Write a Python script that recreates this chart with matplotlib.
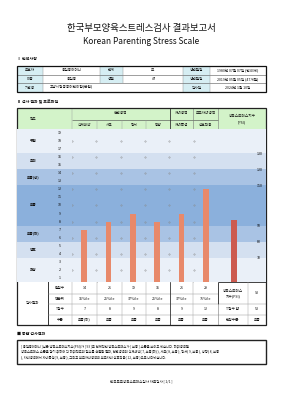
import matplotlib
matplotlib.use("Agg")
import matplotlib.pyplot as plt
import numpy as np
from matplotlib.patches import Rectangle

plt.rcParams['font.family'] = ['Noto Sans CJK KR', 'DejaVu Sans']

# ---------------- data ----------------
title_ko = "한국부모양육스트레스검사 결과보고서"
title_en = "Korean Parenting Stress Scale"
info_rows = [
    ["보호자", "홍길동어머니", "관계", "모", "생년월일", "1980년 07월 07일 (만43세)"],
    ["아동", "홍길동", "성별", "여", "생년월일", "2019년 05월 05일 (47개월)"],
    ["기관명", "고양시청공공어린이집(본원)", "", "", "검사일", "2024년 1월 10일"],
]
domains = ["전반영역", "자녀영역", "부모자녀영역"]
subscales = ["신체쇄약", "사교", "정서", "방향", "자녀특성", "상호작용"]
raw_scores = [14, 21, 19, 15, 21, 29]
percentiles = ["16%ile", "25%ile", "37%ile", "25%ile", "37%ile", "75%ile"]
t_scores = [7, 8, 9, 8, 9, 12]
levels = ["보통(하)", "보통", "보통", "보통", "보통", "보통"]
psi_score = 93
psi_tsum = 53
psi_level = "보통"
scale_ticks = list(range(1, 20))
band_names = ["최상", "양호", "보통(하)", "보통", "보통(상)", "주의", "위험"]
band_edges = [0.5, 3.5, 5.5, 7.5, 12.5, 14.5, 16.5, 19.5]
band_colors = ["#eaf0f8", "#d4e0f0", "#a9c3e4", "#8bb0dc", "#a9c3e4", "#d4e0f0", "#eaf0f8"]
psi_cut_levels = [0.5, 3.5, 5.5, 7.5, 12.5, 14.5, 16.5, 19.5]
psi_cut_scores = [55, 70, 80, 90, 110, 120, 130, 145]
psi_tick_labels = [70, 80, 90, 110, 120, 130]
summary_lines = [
    "[ 홍길동어머니 ]님은 양육스트레스지수(PSI)가 [ 93 ]로 전체적인 양육스트레스가 [ 보통 ] 수준을 보이고 있습니다. 하위영역별",
    "양육스트레스 수준을 알기 위하여 각 하위척도의 점수를 산출한 결과, 전반영역의 신체쇄약( 7, 보통(하) ), 사교( 8, 보통 ), 정서( 9, 보통 ), 방향( 8, 보통",
    "), 자녀영역에서 자녀특성( 9, 보통 ), 그리고 부모자녀영역의 부모자녀 상호작용( 12, 보통 )으로 나타났습니다.",
]
footer = "한국부모양육스트레스검사 자료검사 [ 1/1 ]"

# ---------------- figure ----------------
W, H = 283, 400
fig = plt.figure(figsize=(W / 100, H / 100), dpi=100)
fig.patch.set_facecolor("white")


def pax(x0, y0, x1, y1):
    return [x0 / W, 1 - y1 / H, (x1 - x0) / W, (y1 - y0) / H]


bg = fig.add_axes([0, 0, 1, 1])
bg.set_xlim(0, W)
bg.set_ylim(H, 0)
bg.axis("off")

FS = 2.6
def T(x, y, s, size=FS, ha="center", bold=False, color="#111111", z=6):
    bg.text(x, y, s, fontsize=size, ha=ha, va="center", color=color,
            fontweight="bold" if bold else "normal", zorder=z)

def L(x0, y0, x1, y1, lw=0.5, c="#333333", z=5):
    bg.plot([x0, x1], [y0, y1], color=c, lw=lw, zorder=z, solid_capstyle="butt")

def R(x0, y0, x1, y1, fc, z=1):
    bg.add_patch(Rectangle((x0, y0), x1 - x0, y1 - y0, facecolor=fc, edgecolor="none", zorder=z))

# titles
T(141.5, 28, title_ko, size=6.8)
T(141.5, 41, title_en, size=6.0)

# ---- section I ----
T(17, 59, "Ⅰ 인적사항", size=2.9, ha="left", bold=True)
ix = [17, 43, 100, 123, 183, 210, 266]
iy = [66, 74.7, 83.4, 92]
for r, row in enumerate(info_rows):
    for c in range(6):
        if c % 2 == 0 and row[c]:
            R(ix[c], iy[r], ix[c + 1], iy[r + 1], "#d6eef3")
        if row[c]:
            if r == 2 and c == 1:
                T(ix[c] + 7, (iy[r] + iy[r + 1]) / 2 - 1.5, row[c], ha="left")
            else:
                T((ix[c] + ix[c + 1]) / 2, (iy[r] + iy[r + 1]) / 2, row[c])
for yy in iy[1:-1]:
    L(17, yy, 266, yy, lw=0.4, c="#555555")
for r in range(3):
    for c in range(1, 6):
        if r == 2 and c in (2, 3):
            continue
        L(ix[c], iy[r], ix[c], iy[r + 1], lw=0.3, c="#888888")
bg.add_patch(Rectangle((17, 66), 249, 26, facecolor="none", edgecolor="#111111", lw=0.9, zorder=6))

# ---- section II ----
T(17, 102, "Ⅱ 검사 결과 및 프로파일", size=2.9, ha="left", bold=True)
R(17, 108, 266, 130, "#d3f3c9")
T(33, 119, "척도")
T(121, 113.5, domains[0])
T(181.5, 113.5, domains[1])
T(205.5, 113.5, domains[2])
T(242, 116, "양육스트레스지수")
T(242, 122.5, "(PSI)")
col_x = [72, 97, 122, 146, 170, 193, 218]
for i, s in enumerate(subscales):
    T((col_x[i] + col_x[i + 1]) / 2, 125, s)
L(72, 120, 218, 120, lw=0.4, c="#444444")
for xx in [97, 122, 146]:
    L(xx, 120, xx, 130, lw=0.3, c="#999999")
L(72, 108, 72, 130, lw=0.3, c="#999999")
L(170, 108, 170, 130, lw=0.6, c="#333333")
L(193, 108, 193, 130, lw=0.4, c="#777777")
L(218, 108, 218, 130, lw=0.4, c="#777777")
L(17, 130, 266, 130, lw=0.8, c="#222222")

# band axes (full width)
axb = fig.add_axes(pax(17, 129, 266, 282))
axb.set_ylim(band_edges[0], band_edges[-1])
axb.set_xlim(0, 1)
for i in range(len(band_names)):
    axb.axhspan(band_edges[i], band_edges[i + 1], color=band_colors[i], lw=0)
    mid = (band_edges[i] + band_edges[i + 1]) / 2
    axb.text(16 / 249, mid, band_names[i], fontsize=FS, ha="center", va="center",
             color="#111111", fontweight="bold")
for v in scale_ticks:
    axb.text(43 / 249, v, str(v), fontsize=FS, ha="center", va="center", color="#111111")
axb.axis("off")

# bar axes (6 subscales)
ax = fig.add_axes(pax(72, 129, 218, 282))
ax.patch.set_alpha(0)
xpos = np.arange(len(subscales))
ax.bar(xpos, np.array(t_scores) - band_edges[0], bottom=band_edges[0], width=0.22,
       color="#e8896a", zorder=3)
ax.set_xlim(-0.5, len(subscales) - 0.5)
ax.set_ylim(band_edges[0], band_edges[-1])
for xv in xpos:
    for yv in np.arange(2, 20, 2):
        ax.plot(xv - 0.5, yv, marker=".", ms=0.6, color="#888888", zorder=2)
ax.axis("off")

# PSI axes
def fwd(p):
    return np.interp(p, psi_cut_scores, psi_cut_levels)

def inv(lv):
    return np.interp(lv, psi_cut_levels, psi_cut_scores)

ax2 = fig.add_axes(pax(218, 129, 250, 282))
ax2.patch.set_alpha(0)
ax2.set_yscale("function", functions=(fwd, inv))
ax2.set_ylim(psi_cut_scores[0], psi_cut_scores[-1])
ax2.bar([0], [psi_score - psi_cut_scores[0]], bottom=psi_cut_scores[0], width=0.19,
        color="#cc5a4f", zorder=3)
ax2.set_xlim(-0.5, 0.5)
ax2.yaxis.tick_right()
ax2.set_yticks(psi_tick_labels)
ax2.set_yticklabels([str(t) for t in psi_tick_labels], fontsize=FS)
ax2.tick_params(axis="y", length=0, pad=5)
ax2.set_xticks([])
for sp in ax2.spines.values():
    sp.set_visible(False)

# chart verticals
L(48, 130, 48, 325, lw=0.7, c="#333333")
L(97, 130, 97, 282, lw=0.4, c="#666666")
L(122, 130, 122, 282, lw=0.3, c="#aaaaaa")
L(146, 130, 146, 282, lw=0.3, c="#999999")
L(170, 130, 170, 282, lw=0.7, c="#333333")
L(193, 130, 193, 282, lw=0.4, c="#999999")

# ---- lower table ----
ry = [282, 293.5, 304, 314.5, 325]
row_labels = ["원점수", "백분위", "T점수", "수준"]
for r, lab in enumerate(row_labels):
    T(60, (ry[r] + ry[r + 1]) / 2, lab)
T(32.5, 303.5, "검사결과")
rows_vals = [raw_scores, percentiles, t_scores, levels]
for r, vals in enumerate(rows_vals):
    for i, v in enumerate(vals):
        T((col_x[i] + col_x[i + 1]) / 2, (ry[r] + ry[r + 1]) / 2, str(v))
T(233, 290.5, "양육스트레스")
T(233, 296.5, "지수(PSI)")
T(257, 293, str(psi_score))
T(233, 309.3, "T점수 합")
T(257, 309.3, str(psi_tsum))
T(233, 319.8, "판정수준")
T(257, 319.8, psi_level)
for yy in ry[1:-1]:
    L(48, yy, 218, yy, lw=0.3, c="#888888")
L(218, 304, 266, 304, lw=0.3, c="#888888")
L(218, 314.5, 266, 314.5, lw=0.3, c="#888888")
L(218, 282, 266, 282, lw=0.6, c="#222222")
L(218, 282, 218, 304, lw=0.6, c="#222222")
for xx in [72, 97, 122, 146, 193]:
    L(xx, 282, xx, 325, lw=0.3, c="#999999")
L(170, 282, 170, 325, lw=0.6, c="#333333")
L(218, 304, 218, 325, lw=0.4, c="#777777")
L(248, 282, 248, 325, lw=0.3, c="#999999")
bg.add_patch(Rectangle((17, 108), 249, 217, facecolor="none", edgecolor="#222222", lw=0.9, zorder=7))

# ---- summary ----
T(17, 334, "■ 종합 검사결과", size=2.9, ha="left", bold=True)
bg.add_patch(Rectangle((17, 340), 249, 24, facecolor="white", edgecolor="#222222", lw=1.0, zorder=6))
for i, s in enumerate(summary_lines):
    T(21, 346 + i * 6, s, size=2.35, ha="left", z=7)

T(141.5, 381, footer, size=2.5)

fig.savefig("out.png", dpi=100, facecolor="white")
